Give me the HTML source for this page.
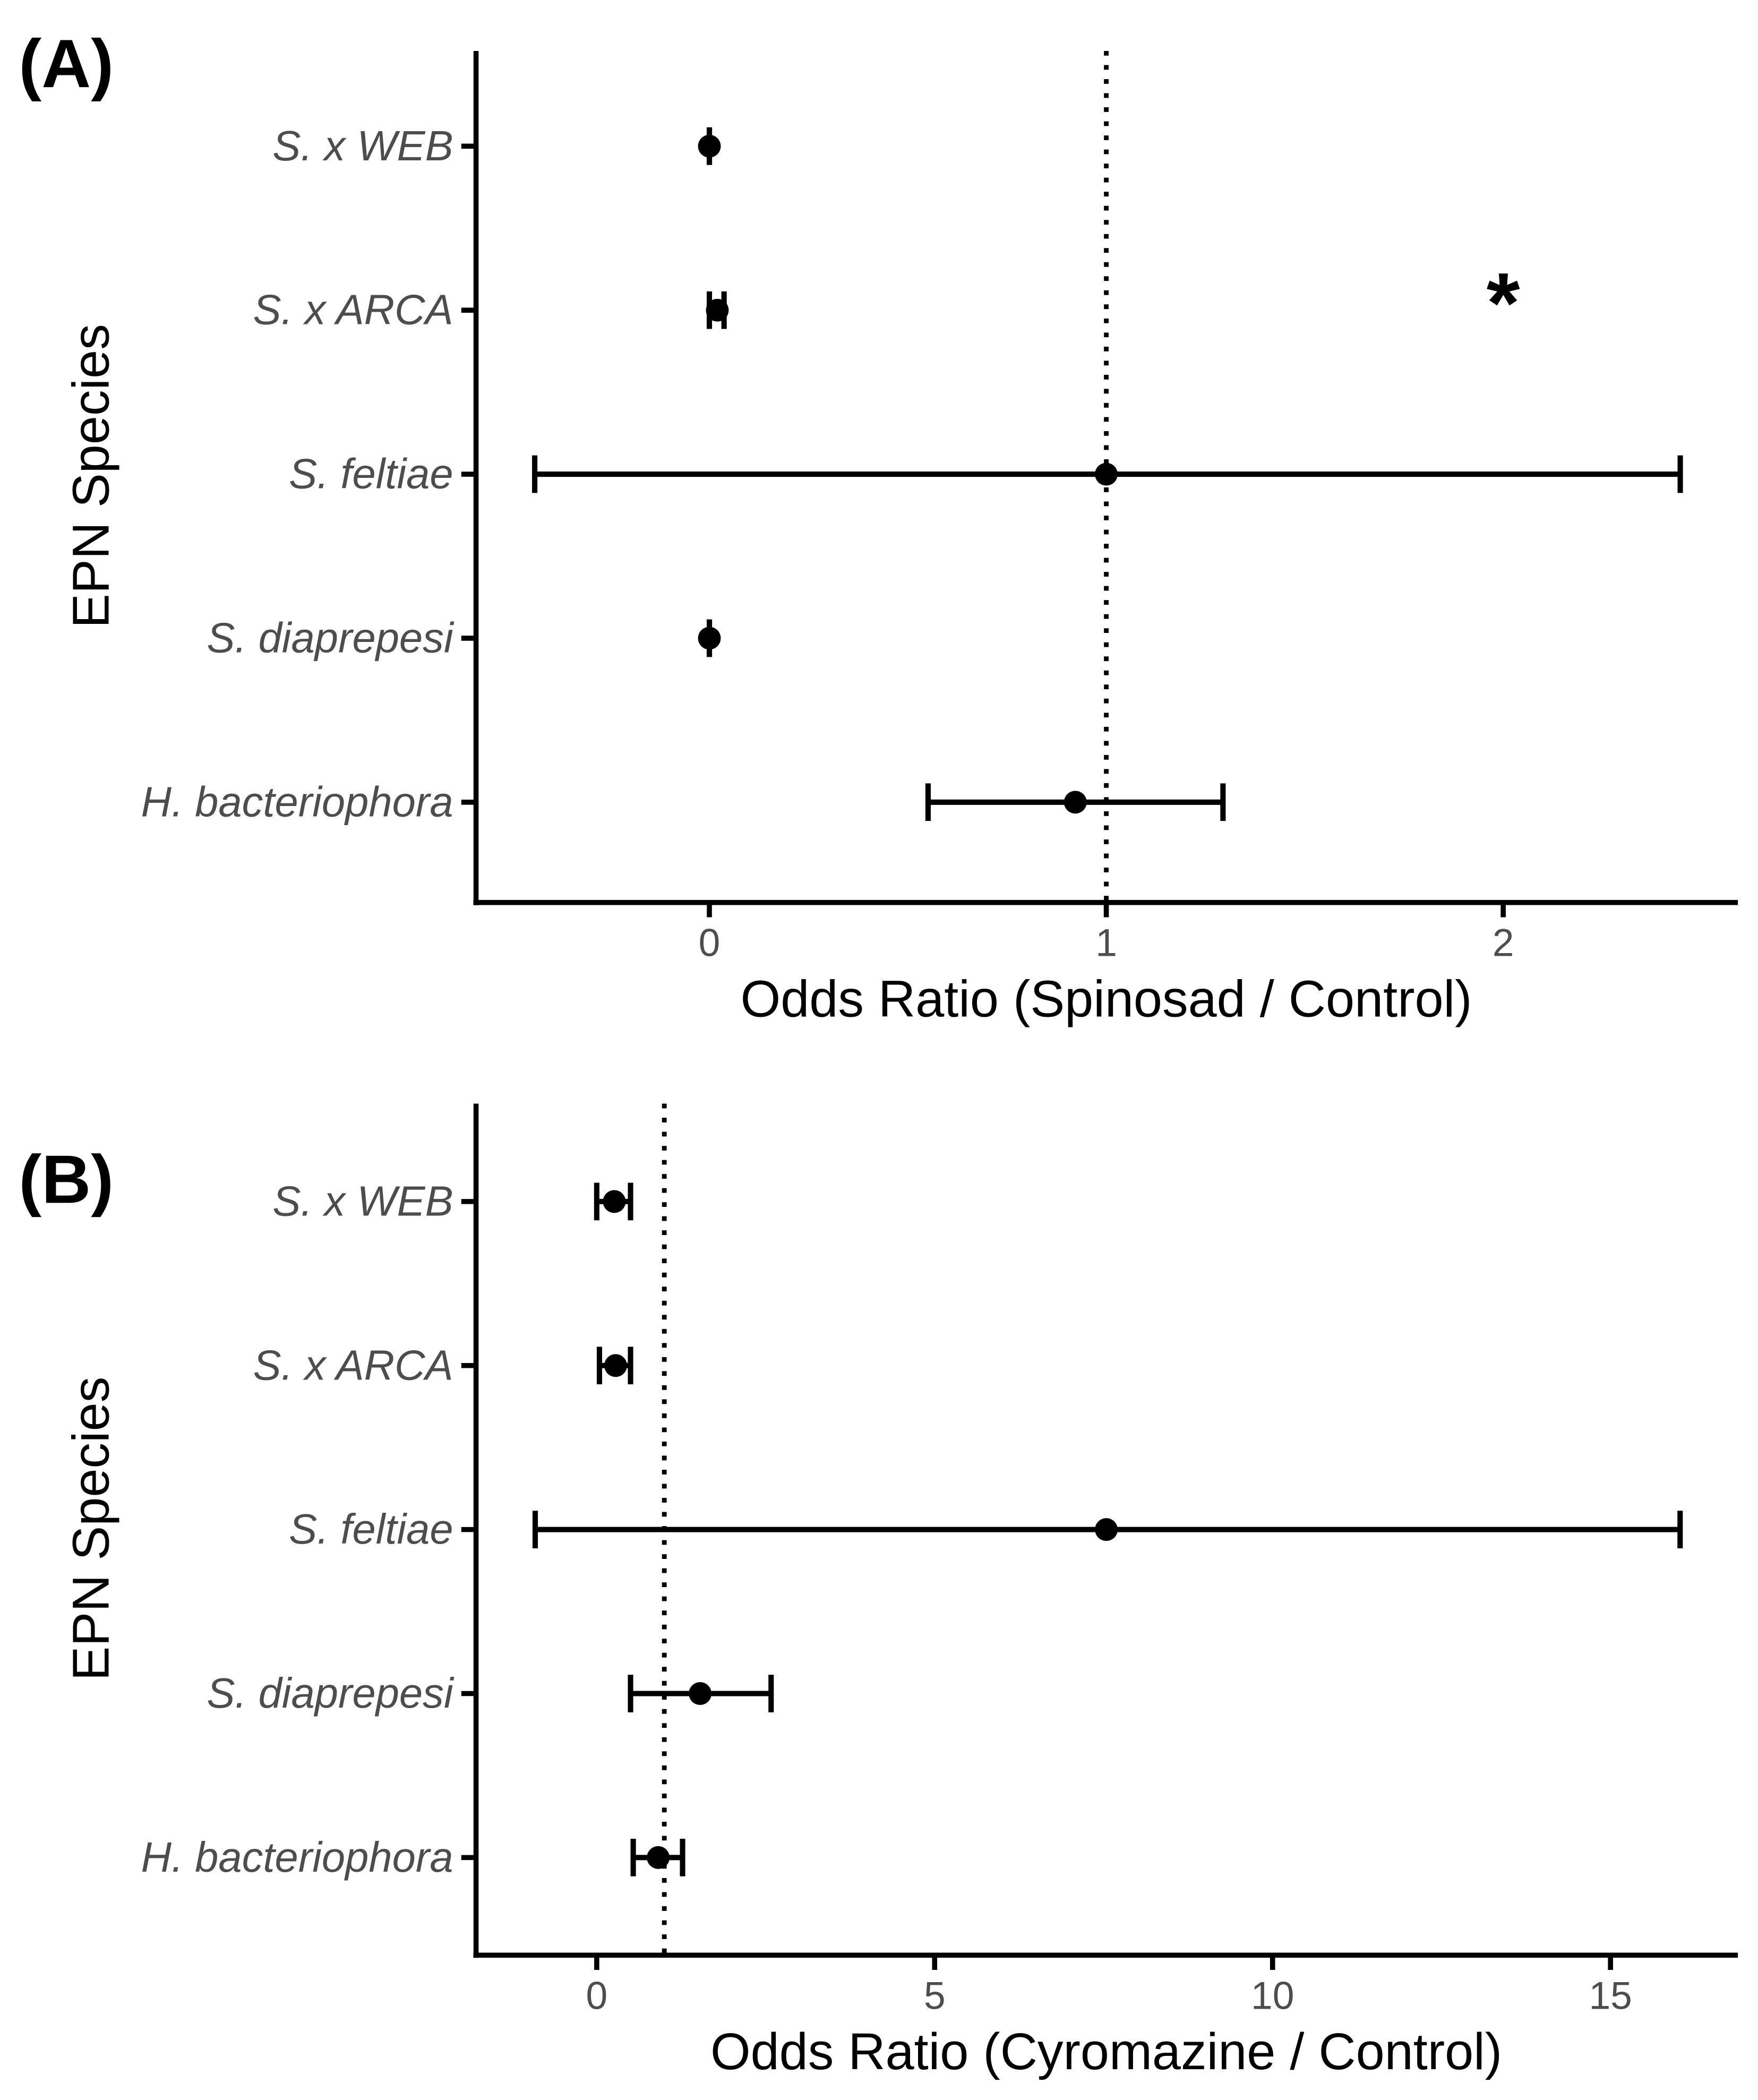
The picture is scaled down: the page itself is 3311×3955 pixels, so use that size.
<!DOCTYPE html>
<html><head><meta charset="utf-8"><style>
html,body{margin:0;padding:0;background:#fff;}
svg{display:block;}
text{font-family:"Liberation Sans",sans-serif;}
</style></head><body>
<svg id="chart" width="3311" height="3955" viewBox="0 0 1311 1566" preserveAspectRatio="none" xmlns="http://www.w3.org/2000/svg">
<rect width="1311" height="1566" fill="#fff"/>
</svg>
<script>
const species = ["S. x WEB","S. x ARCA","S. feltiae","S. diaprepesi","H. bacteriophora"];
const aEst = [0, 0.02, 1.0, 0, 0.922];
const aLo  = [0, 0.0, -0.44, 0, 0.551];
const aHi  = [0, 0.037, 2.446, 0, 1.294];
const aTicks = [0, 1, 2];
const bEst = [0.26, 0.28, 7.54, 1.53, 0.91];
const bLo  = [0.0, 0.04, -0.91, 0.5, 0.54];
const bHi  = [0.5, 0.5, 16.03, 2.58, 1.27];
const bTicks = [0, 5, 10, 15];

const NS = "http://www.w3.org/2000/svg";
const svg = document.getElementById('chart');
function mk(tag, attrs, parent, txt){
  const e = document.createElementNS(NS, tag);
  for (const k in attrs) e.setAttribute(k, attrs[k]);
  if (txt !== undefined) e.textContent = txt;
  (parent || svg).appendChild(e);
  return e;
}

function panel(cfg){
  const g = mk('g', {});
  
  
  const xs = v => cfg.x0 + (v - cfg.t0) * cfg.ppu;
  const ys = i => cfg.rowY0 + i * 122.3;
  const top = cfg.top, bot = cfg.top + 635;
  const ref = mk('line', {x1: xs(1), x2: xs(1), y1: top, y2: bot, stroke: '#000', 'stroke-width': 3.5, 'stroke-dasharray': '3.5,7'}, g);
  
  
  const ya = mk('line', {x1: 355, x2: 355, y1: top, y2: bot + 2, stroke: '#000', 'stroke-width': 3.8}, g);
  
  
  const xa = mk('line', {x1: 353, x2: 1296, y1: bot, y2: bot, stroke: '#000', 'stroke-width': 3.8}, g);
  
  
  species.forEach((s, i) => {
    const y = ys(i);
    mk('line', {x1: 344, x2: 355, y1: y, y2: y, stroke: '#000', 'stroke-width': 3.8}, g);
    const t = mk('text', {x: 338, y: y + 10.5, 'text-anchor': 'end', 'font-size': 31.5, 'font-style': 'italic', fill: '#4D4D4D'}, g, s);
    
    
  });
  cfg.ticks.forEach(v => {
    const x = xs(v);
    mk('line', {x1: x, x2: x, y1: bot, y2: bot + 11, stroke: '#000', 'stroke-width': 3.8}, g);
    const t = mk('text', {x: x, y: bot + 40, 'text-anchor': 'middle', 'font-size': 29, fill: '#4D4D4D'}, g, String(v));
    
    
  });
  species.forEach((s, i) => {
    const y = ys(i);
    const lo = xs(cfg.lo[i]), hi = xs(cfg.hi[i]);
    const eb = mk('g', {}, g);
    
    
    mk('line', {x1: lo, x2: hi, y1: y, y2: y, stroke: '#000', 'stroke-width': 4}, eb);
    mk('line', {x1: lo, x2: lo, y1: y - 14, y2: y + 14, stroke: '#000', 'stroke-width': 4}, eb);
    mk('line', {x1: hi, x2: hi, y1: y - 14, y2: y + 14, stroke: '#000', 'stroke-width': 4}, eb);
    const p = mk('circle', {cx: xs(cfg.est[i]), cy: y, r: 8.5, fill: '#000'}, g);
    
    
  });
  const xt = mk('text', {x: 825, y: bot + 85, 'text-anchor': 'middle', 'font-size': 38.5, fill: '#000'}, g, cfg.xtitle);
  
  
  const cy = top + 317;
  const yt = mk('text', {x: 81, y: cy, 'text-anchor': 'middle', 'font-size': 38.5, fill: '#000', transform: 'rotate(-90 81 ' + cy + ')'}, g, 'EPN Species');
  
  
  const pl = mk('text', {x: 14, y: cfg.labelY, 'font-size': 51, 'font-weight': 'bold', fill: '#000'}, g, cfg.label);
  
  
  return xs;
}

const xsA = panel({name: 'panel-a-spinosad', x0: 529, t0: 0, ppu: 296, top: 38, rowY0: 109,
  est: aEst, lo: aLo, hi: aHi, ticks: aTicks, xtitle: 'Odds Ratio (Spinosad / Control)', label: '(A)', labelY: 65});
const star = mk('text', {x: xsA(2), y: 248, 'text-anchor': 'middle', 'font-size': 64, 'font-weight': 'bold', fill: '#000'}, svg, '*');



panel({name: 'panel-b-cyromazine', x0: 445, t0: 0, ppu: 50.4, top: 823, rowY0: 896,
  est: bEst, lo: bLo, hi: bHi, ticks: bTicks, xtitle: 'Odds Ratio (Cyromazine / Control)', label: '(B)', labelY: 897});
</script>
</body></html>
